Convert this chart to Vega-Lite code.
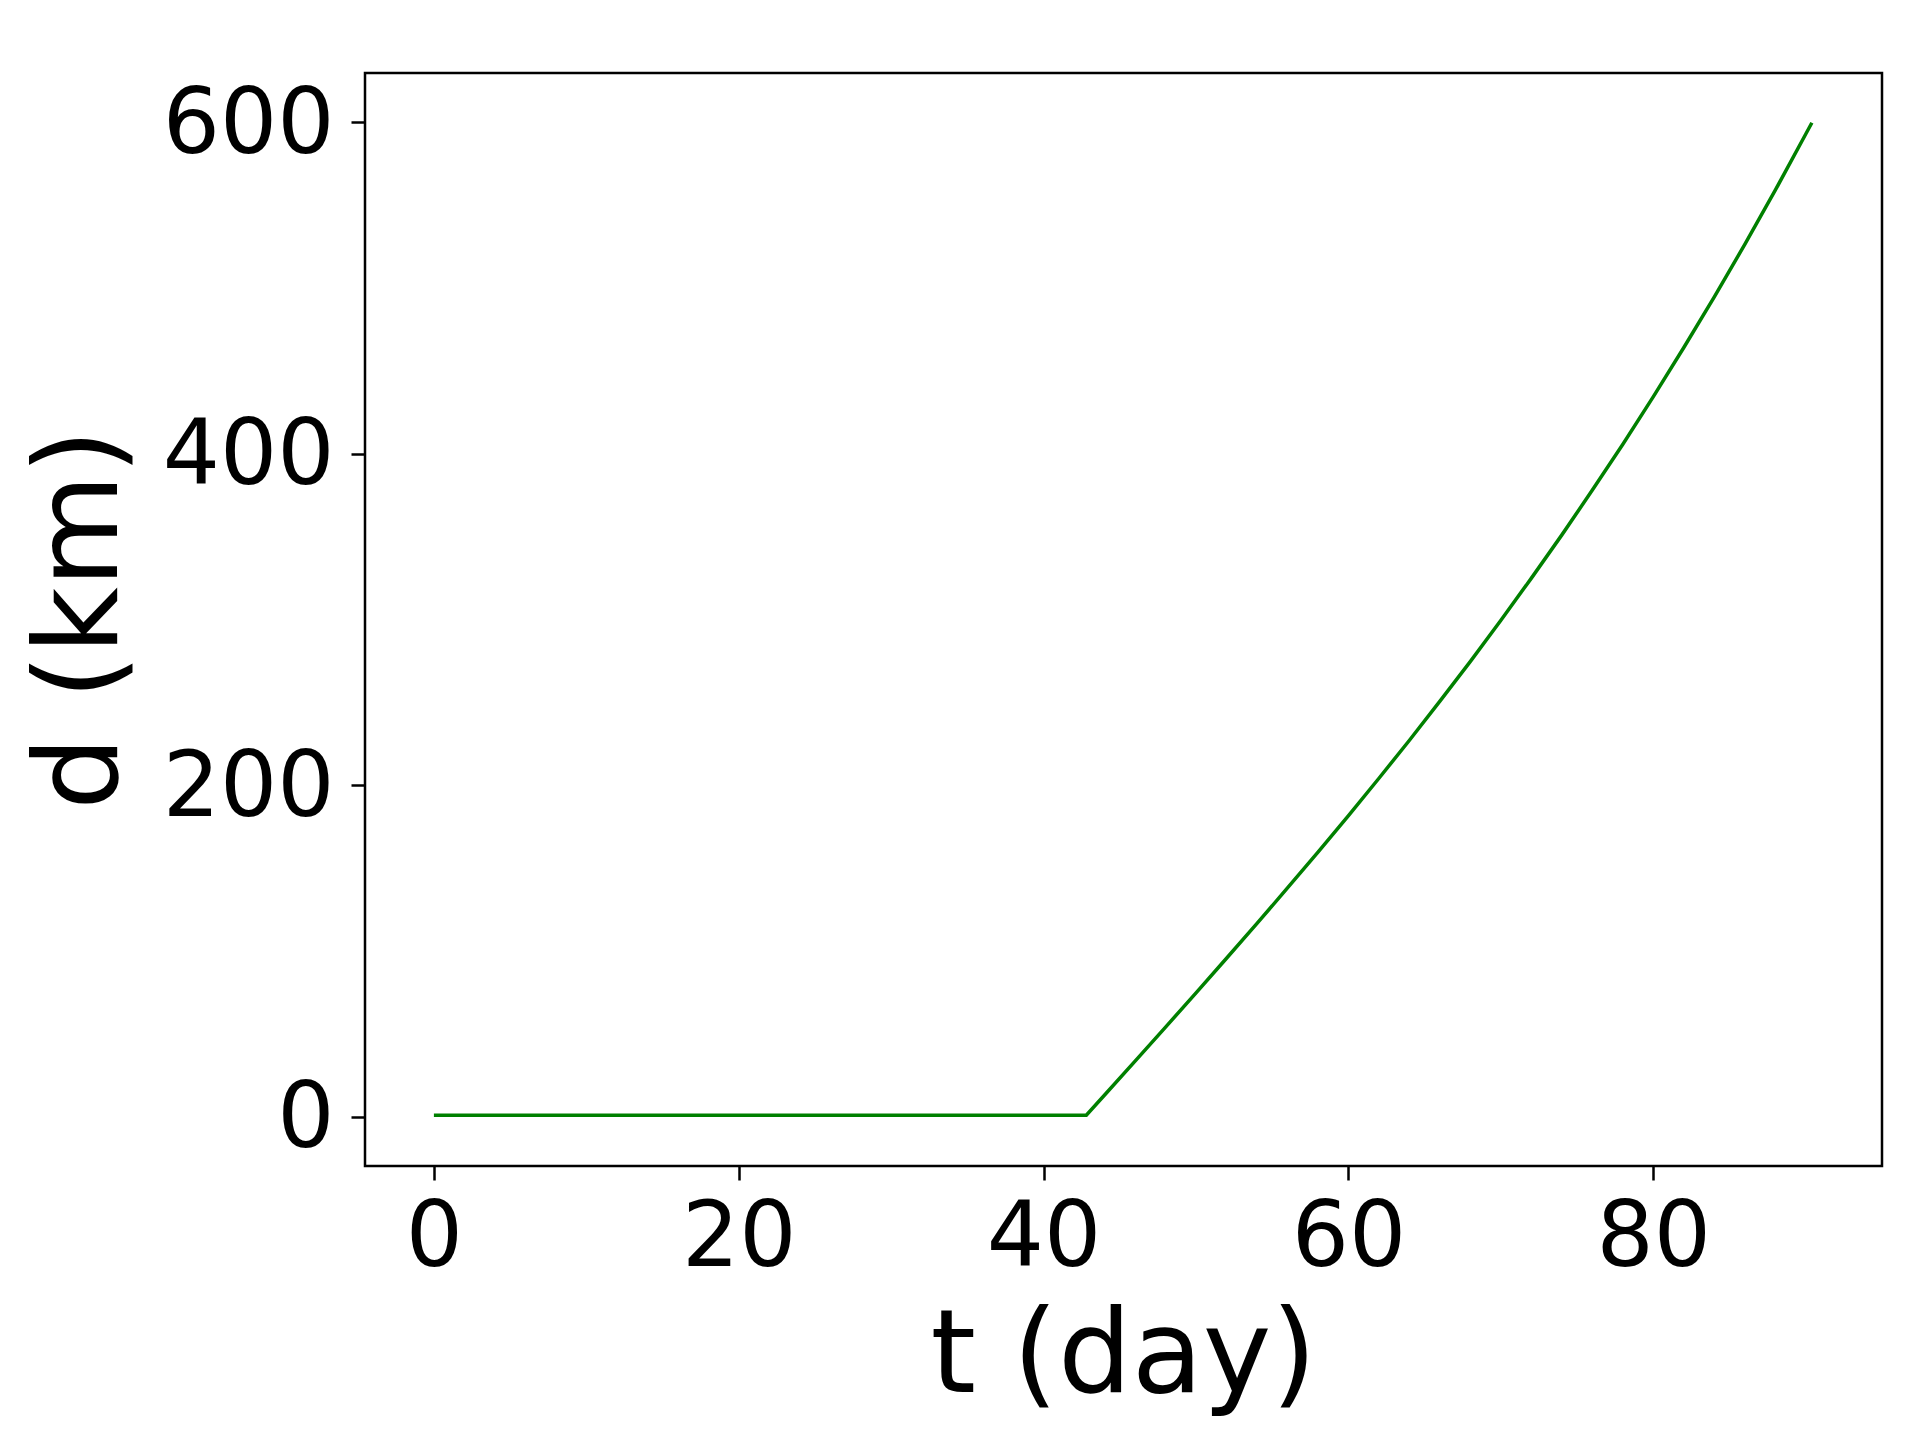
{
  "$schema": "https://vega.github.io/schema/vega-lite/v6.json",
  "autosize": "none",
  "width": 1517,
  "height": 1093,
  "padding": {"left": 365, "top": 73, "right": 38, "bottom": 274},
  "background": "white",
  "config": {
    "view": {"stroke": "black", "strokeWidth": 2.5},
    "font": "DejaVu Sans"
  },
  "data": {
    "values": [
      {"t": 0, "d": 1}, {"t": 5, "d": 1}, {"t": 10, "d": 1}, {"t": 15, "d": 1},
      {"t": 20, "d": 1}, {"t": 25, "d": 1}, {"t": 30, "d": 1}, {"t": 35, "d": 1},
      {"t": 40, "d": 1}, {"t": 42.8, "d": 1},
      {"t": 44, "d": 13.2}, {"t": 46, "d": 33.7}, {"t": 48, "d": 54.2},
      {"t": 50, "d": 74.8}, {"t": 52, "d": 95.7}, {"t": 54, "d": 116.7},
      {"t": 56, "d": 138.1}, {"t": 58, "d": 159.7}, {"t": 60, "d": 181.8},
      {"t": 62, "d": 204.3}, {"t": 64, "d": 227.2}, {"t": 66, "d": 250.8},
      {"t": 68, "d": 274.8}, {"t": 70, "d": 299.6}, {"t": 72, "d": 325.0},
      {"t": 74, "d": 351.1}, {"t": 76, "d": 378.1}, {"t": 78, "d": 405.8},
      {"t": 80, "d": 434.5}, {"t": 82, "d": 464.1}, {"t": 84, "d": 494.7},
      {"t": 86, "d": 526.3}, {"t": 88, "d": 559.0}, {"t": 90, "d": 592.9},
      {"t": 90.4, "d": 599.7}
    ]
  },
  "mark": {"type": "line", "color": "#008000", "strokeWidth": 3.5, "clip": true},
  "encoding": {
    "x": {
      "field": "t",
      "type": "quantitative",
      "scale": {"domain": [-4.52, 95.0], "nice": false, "zero": false},
      "axis": {
        "values": [0, 20, 40, 60, 80],
        "title": "t (day)",
        "grid": false,
        "domain": false,
        "tickColor": "black",
        "tickWidth": 2.5,
        "tickSize": 14,
        "labelFontSize": 90,
        "labelColor": "black",
        "labelPadding": 14,
        "labelFlush": false,
        "labelOverlap": false,
        "titleFontSize": 116,
        "titleFontWeight": "normal",
        "titleColor": "black",
        "titleBaseline": "alphabetic",
        "titleX": 758,
        "titleY": 225,
        "titleAlign": "center"
      }
    },
    "y": {
      "field": "d",
      "type": "quantitative",
      "scale": {"domain": [-29.6, 629.7], "nice": false, "zero": false},
      "axis": {
        "values": [0, 200, 400, 600],
        "title": "d (km)",
        "grid": false,
        "domain": false,
        "tickColor": "black",
        "tickWidth": 2.5,
        "tickSize": 14,
        "labelFontSize": 90,
        "labelColor": "black",
        "labelPadding": 17,
        "labelOffset": 3,
        "labelFlush": false,
        "labelOverlap": false,
        "titleFontSize": 116,
        "titleFontWeight": "normal",
        "titleColor": "black",
        "titleAngle": -90,
        "titleBaseline": "alphabetic",
        "titleAlign": "center",
        "titleX": -249,
        "titleY": 546
      }
    }
  }
}
